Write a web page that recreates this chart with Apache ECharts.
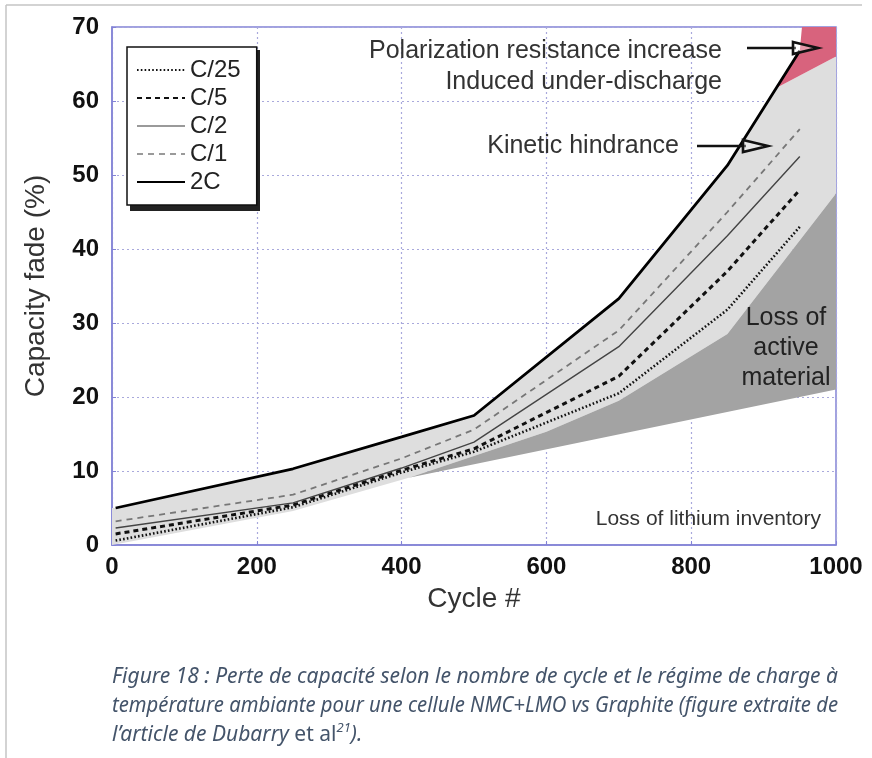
<!DOCTYPE html>
<html><head><meta charset="utf-8">
<script src="https://cdn.jsdelivr.net/npm/echarts@6/dist/echarts.min.js"></script>
<style>html,body{margin:0;padding:0;background:#fff}#c{width:872px;height:758px}</style>
</head><body><div id="c"></div><script>
// ---- data ----
const cycles = [5, 250, 400, 500, 700, 850, 950];
const fadeC25 = [0.6, 5.1, 9.8, 12.6, 20.5, 31.8, 43.0];
const fadeC5  = [1.5, 5.4, 10.1, 13.0, 22.8, 37.0, 48.0];
const fadeC2  = [2.3, 5.7, 10.4, 13.9, 26.8, 41.8, 52.5];
const fadeC1  = [3.2, 6.8, 11.7, 15.6, 29.0, 45.0, 56.2];
const fade2C  = [5.0, 10.3, 14.6, 17.5, 33.3, 51.3, 66.8];
const seriesNames = ['C/25', 'C/5', 'C/2', 'C/1', '2C'];
const xTickLabels = [0, 200, 400, 600, 800, 1000];
const yTickLabels = [0, 10, 20, 30, 40, 50, 60, 70];
// shaded zones (cycle, capacity fade)
const kineticZone = [[0,0],[250,4.6],[410,9.1],[600,15.3],[700,19.5],[850,28.5],[1000,47.5],[1000,66],[918,61.8],[850,51.3],[700,33.3],[500,17.5],[400,14.6],[250,10.3],[5,5.0],[0,5.0]];
const activeZone = [[410,9.1],[600,15.3],[700,19.5],[850,28.5],[1000,47.5],[1000,21.0]];
const polarZone = [[918,61.8],[950,66.8],[953,70],[1000,70],[1000,66]];

const pair = (xs, ys) => xs.map((x, i) => [x, ys[i]]);

function zone(name, pts, color, z) {
  return {
    type: 'custom', name: name, silent: true, z: z, clip: true,
    data: pts,
    encode: { x: 0, y: 1 },
    renderItem: function (params, api) {
      if (params.dataIndex !== 0) return null;
      return { type: 'polygon', shape: { points: pts.map(p => api.coord(p)) }, style: { fill: color } };
    }
  };
}
function lineS(name, ys, style, z) {
  return { type: 'line', name: name, data: pair(cycles, ys), symbol: 'none', showSymbol: false, z: z,
           lineStyle: style, itemStyle: { color: style.color }, silent: true };
}

const FONT = 'Liberation Sans, Arial, sans-serif';
const chart = echarts.init(document.getElementById('c'), null, { renderer: 'canvas' });

// caption scaling
const ctx = document.createElement('canvas').getContext('2d');
const capFont = 'italic 21px "Noto Sans"';
ctx.font = capFont;
const cap1 = 'Figure 18 : Perte de capacité selon le nombre de cycle et le régime de charge à';
const cap2 = 'température ambiante pour une cellule NMC+LMO vs Graphite (figure extraite de';
const s1 = 726 / ctx.measureText(cap1).width;
const s2 = 726 / ctx.measureText(cap2).width;
const capColor = '#44546A';

function arrow(x1, x2, y) {
  return { type: 'group', z: 100, children: [
    { type: 'line', z: 100, shape: { x1: x1, y1: y, x2: x2 - 22, y2: y }, style: { stroke: '#111', lineWidth: 2.4 } },
    { type: 'polygon', z: 100, shape: { points: [[x2 - 25, y - 6], [x2, y], [x2 - 25, y + 6]] }, style: { fill: 'rgba(255,255,255,0.35)', stroke: '#111', lineWidth: 2.6 } }
  ]};
}
function note(text, x, y, align, size) {
  return { type: 'text', x: x, y: y, z: 50, style: { text: text, font: (size || 25) + 'px ' + FONT, fill: '#333', textAlign: align || 'right', textVerticalAlign: 'middle' } };
}

const legendData = seriesNames.map(n => {
  if (n === 'C/2') return { name: n, lineStyle: { color: '#9a9a9a', width: 2 } };
  if (n === 'C/1') return { name: n, lineStyle: { color: '#9a9a9a', width: 2 } };
  return { name: n };
});

chart.setOption({
  animation: false,
  grid: { left: 112, right: 36, top: 27, bottom: 213, show: true, borderColor: '#8383d6', borderWidth: 1.5, backgroundColor: 'transparent' },
  xAxis: {
    type: 'value', min: xTickLabels[0], max: xTickLabels[xTickLabels.length - 1], interval: 200,
    name: 'Cycle #', nameLocation: 'middle', nameGap: 40,
    nameTextStyle: { fontFamily: FONT, fontSize: 28, color: '#333' },
    axisLine: { show: true, lineStyle: { color: '#8383d6', width: 1.5 } },
    axisTick: { show: true, inside: true, length: 4, lineStyle: { color: '#8383d6' } },
    axisLabel: { fontFamily: FONT, fontSize: 24, fontWeight: 'bold', color: '#111', margin: 10, formatter: v => String(v) },
    splitLine: { show: true, lineStyle: { color: '#a9a9dc', type: [2, 3], width: 1.2 } }
  },
  yAxis: {
    type: 'value', min: yTickLabels[0], max: yTickLabels[yTickLabels.length - 1], interval: 10,
    name: 'Capacity fade (%)', nameLocation: 'middle', nameGap: 62,
    nameTextStyle: { fontFamily: FONT, fontSize: 28, color: '#333' },
    axisLine: { show: true, lineStyle: { color: '#8383d6', width: 1.5 } },
    axisTick: { show: true, inside: true, length: 4, lineStyle: { color: '#8383d6' } },
    axisLabel: { fontFamily: FONT, fontSize: 24, fontWeight: 'bold', color: '#111', margin: 13, formatter: v => String(v) },
    splitLine: { show: true, lineStyle: { color: '#a9a9dc', type: [2, 3], width: 1.2 } }
  },
  legend: {
    data: legendData, orient: 'vertical', left: 127, top: 47,
    itemWidth: 48, itemHeight: 14, itemGap: 4, padding: [11, 16, 11, 9],
    backgroundColor: '#fff', borderColor: '#111', borderWidth: 1.5, borderRadius: 0,
    itemStyle: { opacity: 0, borderWidth: 0 },
    textStyle: { fontFamily: FONT, fontSize: 24, color: '#222' },
    selectedMode: false
  },
  series: [
    zone('kinetic', kineticZone, '#dedede', 1),
    zone('active', activeZone, '#a3a3a3', 2),
    zone('polar', polarZone, '#d8637d', 2),
    lineS('C/25', fadeC25, { color: '#111', width: 2.6, type: [1.6, 2.2] }, 5),
    lineS('C/5', fadeC5, { color: '#111', width: 3, type: [5, 4] }, 5),
    lineS('C/2', fadeC2, { color: '#444', width: 1.4, type: 'solid' }, 5),
    lineS('C/1', fadeC1, { color: '#777', width: 1.8, type: [6, 5] }, 5),
    lineS('2C', fade2C, { color: '#000', width: 2.8, type: 'solid' }, 6)
  ],
  graphic: [
    { type: 'line', shape: { x1: 6, y1: 5, x2: 862, y2: 5 }, style: { stroke: '#c4c4c4', lineWidth: 1.5 } },
    { type: 'line', shape: { x1: 6, y1: 5, x2: 6, y2: 758 }, style: { stroke: '#c4c4c4', lineWidth: 1.5 } },
    { type: 'rect', z: 3, shape: { x: 130, y: 50, width: 130, height: 161 }, style: { fill: '#222' } },
    note('Polarization resistance increase', 722, 51),
    note('Induced under-discharge', 722, 82),
    note('Kinetic hindrance', 679, 146),
    { type: 'text', x: 786, y: 348, z: 50, style: { text: 'Loss of\nactive\nmaterial', font: '25px ' + FONT, fill: '#222', textAlign: 'center', textVerticalAlign: 'middle', lineHeight: 30 } },
    note('Loss of lithium inventory', 821, 519, 'right', 21),
    arrow(747, 818, 48),
    arrow(697, 768, 146),
    { type: 'text', x: 112, y: 677, scaleX: s1, style: { text: cap1, font: capFont, fill: capColor, textVerticalAlign: 'middle' } },
    { type: 'text', x: 112, y: 706, scaleX: s2, style: { text: cap2, font: capFont, fill: capColor, textVerticalAlign: 'middle' } },
    { type: 'text', x: 112, y: 735, scaleX: s1, style: {
        text: '{i|l’article de Dubarry }{n|et al}{s|21}{i|).}', textVerticalAlign: 'middle',
        rich: {
          i: { font: 'italic 21px "Noto Sans"', fill: capColor, lineHeight: 26 },
          n: { font: '21px "Noto Sans"', fill: capColor, lineHeight: 26 },
          s: { font: 'italic 13px "Noto Sans"', fill: capColor, lineHeight: 26, verticalAlign: 'top', padding: [0, 0, 6, 0] }
        } } }
  ]
});
</script></body></html>
